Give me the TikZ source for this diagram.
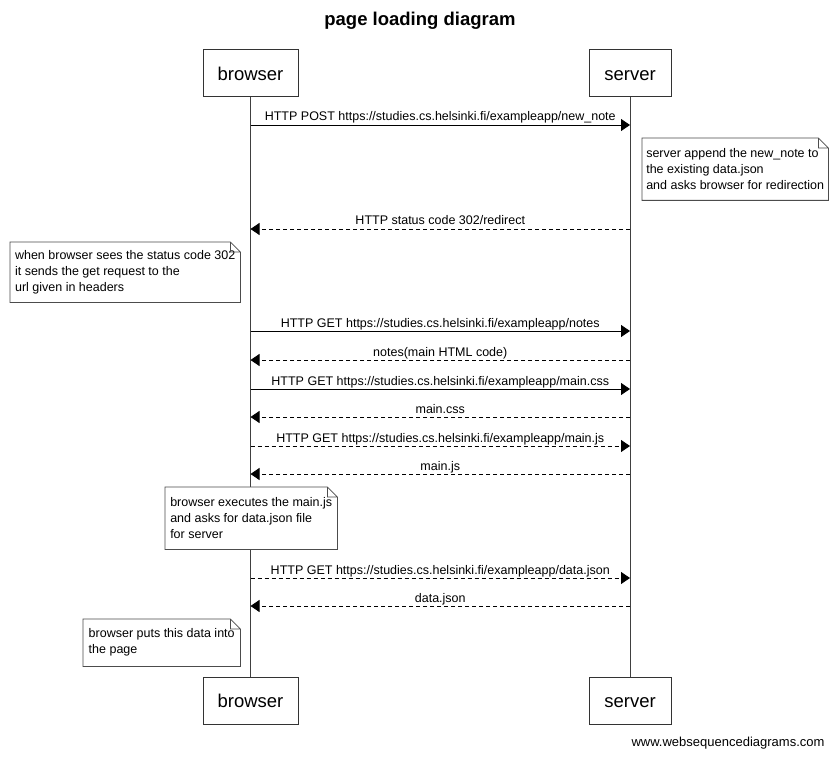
\documentclass[tikz,border=0pt]{standalone}
\usepackage{fontspec}
\setmainfont{Liberation Sans}
\usetikzlibrary{arrows.meta,positioning}
\tikzset{
    actor/.style={rectangle, draw=black!80, line width=1pt, minimum height=47pt, inner sep=0pt, text height=13.5pt, text depth=0pt, font=\fontsize{18.5}{22}\selectfont},
    notebox/.style={rectangle, fill=white, anchor=north west, align=left, inner sep=0pt, font=\fontsize{12.5}{16}\selectfont},
    fold/.style={draw=black!70, line width=0.8pt},
    life/.style={draw=black!75, line width=1pt},
    msg/.style={-{Triangle[length=9pt,width=12pt]}, line width=0.9pt},
    reply/.style={msg, dash pattern=on 4pt off 3pt},
    lbl/.style={anchor=base, yshift=4pt, inner sep=0pt, font=\fontsize{12.5}{15}\selectfont}
}

\begin{document}
\begin{tikzpicture}[x=1pt, y=-1pt]
    \useasboundingbox[fill=white] (0,0) rectangle (836,757);
    \node[anchor=base, font=\bfseries\fontsize{18.5}{22}\selectfont] (title) at (420,26) {page loading diagram};

    % participants
    \node[actor, minimum width=95pt] (brtop) at (250.5,73.5) {browser};
    \node[actor, minimum width=82pt] (svtop) at (630,73.5) {server};
    \node[actor, minimum width=95pt] (brbot) at (250.5,701) {browser};
    \node[actor, minimum width=82pt] (svbot) at (630,701) {server};
    \draw[life] (brtop) -- (brbot);
    \draw[life] (svtop) -- (svbot);

    % message levels
    \foreach \y [count=\i] in {125,229,331,360,389,417,446,474,578,606} {
      \coordinate (b\i) at (250.5,\y);
      \coordinate (s\i) at (630,\y);
    }

    \draw[msg] (b1) -- node[lbl] {HTTP POST https://studies.cs.helsinki.fi/exampleapp/new\_note} (s1);
    \draw[reply] (s2) -- node[lbl] {HTTP status code 302/redirect} (b2);
    \draw[msg] (b3) -- node[lbl] {HTTP GET https://studies.cs.helsinki.fi/exampleapp/notes} (s3);
    \draw[reply] (s4) -- node[lbl] {notes(main HTML code)} (b4);
    \draw[msg] (b5) -- node[lbl] {HTTP GET https://studies.cs.helsinki.fi/exampleapp/main.css} (s5);
    \draw[reply] (s6) -- node[lbl] {main.css} (b6);
    \draw[reply] (b7) -- node[lbl] {HTTP GET https://studies.cs.helsinki.fi/exampleapp/main.js} (s7);
    \draw[reply] (s8) -- node[lbl] {main.js} (b8);
    \draw[reply] (b9) -- node[lbl] {HTTP GET https://studies.cs.helsinki.fi/exampleapp/data.json} (s9);
    \draw[reply] (s10) -- node[lbl] {data.json} (b10);

    % notes
    \node[notebox, minimum width=186pt, minimum height=62pt] (srvnote) at (642,138)
      {server append the new\_note to\\the existing data.json\\and asks browser for redirection};
    \node[notebox, minimum width=230pt, minimum height=60pt] (redirnote) at (10,242)
      {when browser sees the status code 302\\it sends the get request to the\\url given in headers};
    \node[notebox, minimum width=172pt, minimum height=62pt] (jsnote) at (165,487)
      {browser executes the main.js\\and asks for data.json file\\for server};
    \node[notebox, minimum width=157pt, minimum height=47pt] (pagenote) at (83,619)
      {browser puts this data into\\the page};
    \foreach \n in {srvnote,redirnote,jsnote,pagenote}
      \draw[fold] (\n.north west) -- ([xshift=-10pt]\n.north east) -- ([yshift=-10pt]\n.north east)
        -- (\n.south east) -- (\n.south west) -- cycle
        ([xshift=-10pt]\n.north east) |- ([yshift=-10pt]\n.north east);

    \node[anchor=base east, font=\fontsize{13}{15}\selectfont] (credit) at (828,746) {www.websequencediagrams.com};
\end{tikzpicture}
\end{document}
